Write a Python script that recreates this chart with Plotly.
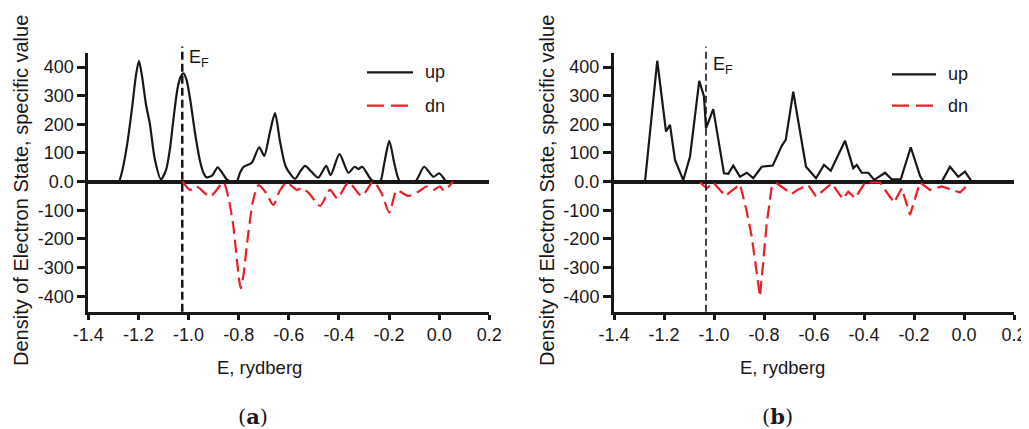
import plotly.graph_objects as go

# ---------------- data ----------------
x_ticks = [-1.4, -1.2, -1.0, -0.8, -0.6, -0.4, -0.2, 0.0, 0.2]
x_tick_labels = ["-1.4", "-1.2", "-1.0", "-0.8", "-0.6", "-0.4", "-0.2", "0.0", "0.2"]
y_ticks = [-400, -300, -200, -100, 0, 100, 200, 300, 400]
y_tick_labels = ["-400", "-300", "-200", "-100", "0.0", "100", "200", "300", "400"]

fermi_a = -1.025
fermi_b = -1.032

# panel (a) - spin up
e_a_up = [-1.290, -1.278, -1.264, -1.245, -1.225, -1.210, -1.198, -1.186, -1.170, -1.154,
          -1.135, -1.110, -1.090, -1.075, -1.060, -1.045, -1.032, -1.020, -1.008, -0.994,
          -0.974, -0.955, -0.940, -0.928, -0.905, -0.884, -0.865, -0.848, -0.830, -0.808,
          -0.795, -0.782, -0.748, -0.718, -0.698, -0.676, -0.655, -0.635, -0.612, -0.575,
          -0.555, -0.535, -0.510, -0.482, -0.451, -0.433, -0.398, -0.362, -0.338, -0.322,
          -0.307, -0.269, -0.236, -0.220, -0.199, -0.178, -0.156, -0.096, -0.060, -0.023,
          0.000, 0.027]
dos_a_up = [0, 0, 40, 130, 260, 370, 422, 370, 270, 200,
            80, 8, 40, 110, 220, 320, 365, 378, 355, 290,
            169, 75, 30, 15, 22, 50, 30, 8, 0, 0,
            30, 50, 66, 120, 90, 170, 239, 140, 52, 10,
            35, 55, 35, 14, 55, 23, 96, 31, 52, 44,
            52, 5, 0, 60, 142, 60, 0, 0, 52, 17,
            29, 0]

# panel (a) - spin down
e_a_dn = [-1.023, -0.994, -0.968, -0.914, -0.861, -0.840, -0.821, -0.805, -0.792, -0.780,
          -0.768, -0.742, -0.720, -0.690, -0.662, -0.635, -0.608, -0.568, -0.548, -0.520,
          -0.475, -0.436, -0.406, -0.362, -0.309, -0.263, -0.230, -0.199, -0.169, -0.123,
          -0.083, -0.050, -0.023, 0.003, 0.019, 0.056]
dos_a_dn = [0, -29, -17, -52, -3, -60, -157, -290, -372, -320,
            -227, -64, -12, -40, -81, -30, -3, -29, -23, -40,
            -85, -29, -58, -3, -50, 0, -40, -108, -31, -50,
            -35, -17, -29, -17, -31, 0]

# panel (b) - spin up
e_b_up = [-1.276, -1.227, -1.192, -1.176, -1.156, -1.123, -1.096, -1.059, -1.040, -1.032,
          -1.003, -0.983, -0.960, -0.943, -0.923, -0.896, -0.869, -0.843, -0.809, -0.765,
          -0.729, -0.713, -0.683, -0.632, -0.592, -0.560, -0.533, -0.476, -0.443, -0.429,
          -0.409, -0.383, -0.359, -0.316, -0.289, -0.253, -0.213, -0.176, -0.163, -0.089,
          -0.056, -0.023, 0.004, 0.031]
dos_b_up = [0, 422, 175, 198, 76, 5, 87, 352, 297, 186,
            253, 146, 29, 27, 56, 17, 31, 12, 52, 56,
            125, 146, 314, 52, 12, 58, 38, 143, 47, 58,
            31, 31, 6, 31, 8, 8, 120, 20, 0, 0,
            52, 17, 35, 0]

# panel (b) - spin down
e_b_dn = [-1.056, -1.029, -1.003, -0.955, -0.896, -0.870, -0.849, -0.816, -0.789, -0.769,
          -0.749, -0.689, -0.663, -0.623, -0.592, -0.529, -0.485, -0.463, -0.436, -0.396,
          -0.336, -0.309, -0.280, -0.249, -0.216, -0.176, -0.136, -0.089, -0.056, -0.016,
          0.024]
dos_b_dn = [-3, -23, -3, -50, -9, -100, -192, -401, -145, -17,
            -6, -43, -27, -12, -52, -6, -61, -35, -58, -3,
            -3, -35, -73, -23, -116, -3, -29, -17, -27, -38,
            -3]

# ---------------- styling ----------------
W, H = 1029, 429
OFF = 8  # page body margin
BLACK = "#1a1718"
RED = "#ee1c25"
FONT = "Liberation Sans, Arial, sans-serif"
FS = 18

def px_x(p):
    return (p - OFF) / W

def px_y(p):
    return 1 - (p - OFF) / H

fig = go.Figure()

fig.add_trace(go.Scatter(x=e_a_up, y=dos_a_up, mode="lines", name="up",
                         line=dict(color=BLACK, width=2.2, shape="spline", smoothing=0.7),
                         xaxis="x", yaxis="y", showlegend=False))
fig.add_trace(go.Scatter(x=e_a_dn, y=dos_a_dn, mode="lines", name="dn",
                         line=dict(color=RED, width=2.2, dash="13px,6px", shape="spline", smoothing=0.7),
                         xaxis="x", yaxis="y", showlegend=False))
fig.add_trace(go.Scatter(x=e_b_up, y=dos_b_up, mode="lines", name="up",
                         line=dict(color=BLACK, width=2.2),
                         xaxis="x2", yaxis="y2", showlegend=False))
fig.add_trace(go.Scatter(x=e_b_dn, y=dos_b_dn, mode="lines", name="dn",
                         line=dict(color=RED, width=2.2, dash="13px,6px"),
                         xaxis="x2", yaxis="y2", showlegend=False))

ydom = [px_y(311.7), px_y(53)]
dom_a = [px_x(88.3), px_x(489.3)]
dom_b = [px_x(614), px_x(1014)]

def xaxis(dom, anchor):
    return dict(domain=dom, anchor=anchor, range=[-1.4, 0.2], tickvals=x_ticks,
                ticktext=x_tick_labels, showline=True, linecolor=BLACK, linewidth=3,
                ticks="outside", ticklen=5, tickwidth=3, tickcolor=BLACK,
                showgrid=False, zeroline=False, automargin=False,
                tickfont=dict(family=FONT, size=FS, color=BLACK))

def yaxis(anchor):
    return dict(domain=ydom, anchor=anchor, range=[-454, 449], tickvals=y_ticks,
                ticktext=y_tick_labels, showline=True, linecolor=BLACK, linewidth=3,
                ticks="outside", ticklen=8, tickwidth=3, tickcolor=BLACK,
                showgrid=False, zeroline=True, zerolinecolor=BLACK, zerolinewidth=3.5,
                automargin=False,
                tickfont=dict(family=FONT, size=FS, color=BLACK))

shapes = [
    dict(type="line", xref="x", yref="y domain", x0=fermi_a, x1=fermi_a, y0=0, y1=1.025,
         line=dict(color=BLACK, width=2.5, dash="8px,4px")),
    dict(type="line", xref="x2", yref="y2 domain", x0=fermi_b, x1=fermi_b, y0=0, y1=1.025,
         line=dict(color=BLACK, width=1.6, dash="7px,4px")),
]

annotations = []
# legends (drawn by hand to match the long sample lines)
for (lx0, lx1, tx, yu, yd) in [(367, 413, 423, 72.3, 105.7), (892, 936, 946, 74.3, 105.7)]:
    shapes.append(dict(type="line", xref="paper", yref="paper", x0=px_x(lx0), x1=px_x(lx1),
                       y0=px_y(yu), y1=px_y(yu), line=dict(color=BLACK, width=2.2)))
    shapes.append(dict(type="line", xref="paper", yref="paper", x0=px_x(lx0), x1=px_x(lx1),
                       y0=px_y(yd), y1=px_y(yd), line=dict(color=RED, width=2.2, dash="17px,7px")))
    annotations.append(dict(xref="paper", yref="paper", x=px_x(tx), y=px_y(yu), text="up",
                            showarrow=False, xanchor="left", yanchor="middle",
                            font=dict(family=FONT, size=FS, color=BLACK)))
    annotations.append(dict(xref="paper", yref="paper", x=px_x(tx), y=px_y(yd), text="dn",
                            showarrow=False, xanchor="left", yanchor="middle",
                            font=dict(family=FONT, size=FS, color=BLACK)))

# Fermi level labels
annotations.append(dict(xref="paper", yref="paper", x=px_x(187), y=px_y(59), text="E<sub>F</sub>",
                        showarrow=False, xanchor="left", yanchor="middle",
                        font=dict(family=FONT, size=FS, color=BLACK)))
annotations.append(dict(xref="paper", yref="paper", x=px_x(711), y=px_y(65), text="E<sub>F</sub>",
                        showarrow=False, xanchor="left", yanchor="middle",
                        font=dict(family=FONT, size=FS, color=BLACK)))

# axis titles
for (xc, xt) in [(21, 259), (547, 782)]:
    annotations.append(dict(xref="paper", yref="paper", x=px_x(xc), y=px_y(191),
                            text="Density of Electron State, specific value", textangle=-90,
                            showarrow=False, xanchor="center", yanchor="middle",
                            font=dict(family=FONT, size=20, color=BLACK)))
    annotations.append(dict(xref="paper", yref="paper", x=px_x(xt), y=px_y(367),
                            text="E, rydberg", showarrow=False, xanchor="center", yanchor="middle",
                            font=dict(family=FONT, size=18.5, color=BLACK)))

# panel labels
for (xc, lab) in [(253, "a"), (777.5, "b")]:
    annotations.append(dict(xref="paper", yref="paper", x=px_x(xc), y=px_y(416),
                            text="(<b>" + lab + "</b>)", showarrow=False,
                            xanchor="center", yanchor="middle",
                            font=dict(family="DejaVu Serif, serif", size=21, color=BLACK)))

fig.update_layout(
    width=W, height=H,
    margin=dict(l=0, r=0, t=0, b=0),
    paper_bgcolor="white", plot_bgcolor="white",
    xaxis=xaxis(dom_a, "y"), yaxis=yaxis("x"),
    xaxis2=xaxis(dom_b, "y2"), yaxis2=yaxis("x2"),
    shapes=shapes, annotations=annotations,
    showlegend=False,
)

fig.write_html("out.html")
